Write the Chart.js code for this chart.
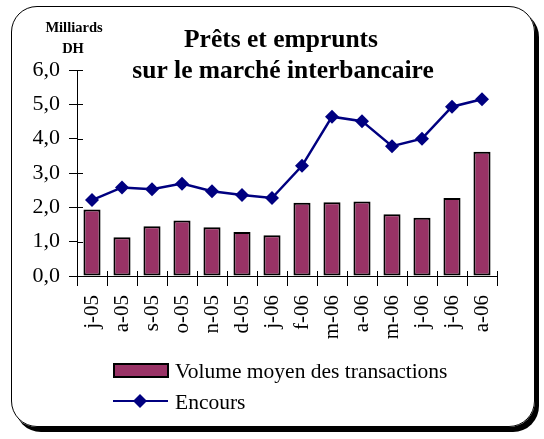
<!DOCTYPE html>
<html>
<head>
<meta charset="utf-8">
<script src="https://cdn.jsdelivr.net/npm/chart.js@4.4.1/dist/chart.umd.min.js"></script>
<style>
  html, body { margin: 0; padding: 0; background: #fff; }
  #wrap { position: relative; width: 544px; height: 439px; }
  #frame {
    position: absolute; left: 11px; top: 6px; width: 522px; height: 419px;
    border: 1.5px solid #000; border-radius: 26px; box-shadow: 4px 5px 0 #000;
  }
  canvas { position: absolute; left: 0; top: 0; }
</style>
</head>
<body>
<div id="wrap">
  <div id="frame"></div>
  <canvas id="myChart" width="544" height="439"></canvas>
</div>
<script>
(() => {
  'use strict'

  const months = ['j-05', 'a-05', 's-05', 'o-05', 'n-05', 'd-05', 'j-06',
    'f-06', 'm-06', 'a-06', 'm-06', 'j-06', 'j-06', 'a-06']
  const volume = [1.94, 1.13, 1.45, 1.62, 1.42, 1.28, 1.19, 2.13, 2.15, 2.17, 1.80, 1.70, 2.27, 3.62]
  const encours = [2.21, 2.58, 2.53, 2.69, 2.47, 2.36, 2.27, 3.21, 4.64, 4.51, 3.78, 4.00, 4.93, 5.15]
  const titleLines = ['Prêts et emprunts', 'sur le marché interbancaire']
  const unitLines = ['Milliards', 'DH']

  const serif = "'Times New Roman', 'Liberation Serif', serif"

  // the month labels look stretched in the original, spread them a bit
  const spacing = {
    id: 'spacing',
    afterDatasetsDraw (chart) { chart.ctx.letterSpacing = '4px' },
    afterDraw (chart) { chart.ctx.letterSpacing = '0px' }
  }

  // title, unit, legend and the inner half of the axis ticks
  const extras = {
    id: 'extras',
    afterDraw (chart) {
      const c = chart.ctx
      const x = chart.scales.x
      const y = chart.scales.y
      c.save()
      c.strokeStyle = '#000'
      c.lineWidth = 1
      c.beginPath()
      y.ticks.forEach((t, i) => {
        const py = Math.round(y.getPixelForTick(i)) + 0.5
        c.moveTo(x.left, py)
        c.lineTo(x.left + 6, py)
      })
      for (let i = 0; i <= months.length; i++) {
        const px = Math.round(x.left + i * (x.width / months.length)) + 0.5
        c.moveTo(px, y.bottom)
        c.lineTo(px, y.bottom - 5)
      }
      c.stroke()

      c.fillStyle = '#000'
      c.textAlign = 'center'
      c.textBaseline = 'alphabetic'
      c.font = 'bold 25.5px ' + serif
      c.fillText(titleLines[0], 281, 47)
      c.fillText(titleLines[1], 283, 78)
      c.font = 'bold 14.5px ' + serif
      c.fillText(unitLines[0], 74, 32)
      c.fillText(unitLines[1], 73, 53)

      const ds = chart.data.datasets
      c.textAlign = 'left'
      c.font = '21.5px ' + serif
      // bar entry
      c.fillStyle = ds[1].backgroundColor
      c.fillRect(114, 364, 54, 13)
      c.lineWidth = 2
      c.strokeRect(114, 364, 54, 13)
      c.fillStyle = '#000'
      c.fillText(ds[1].label, 175, 378)
      // line entry
      c.strokeStyle = ds[0].borderColor
      c.lineWidth = 2
      c.beginPath()
      c.moveTo(113, 401)
      c.lineTo(168, 401)
      c.stroke()
      c.fillStyle = ds[0].pointBackgroundColor
      c.beginPath()
      c.moveTo(140, 394); c.lineTo(147, 401); c.lineTo(140, 408); c.lineTo(133, 401)
      c.closePath()
      c.fill()
      c.fillStyle = '#000'
      c.fillText(ds[0].label, 175, 409)
      c.restore()
    }
  }

  const ctx = document.getElementById('myChart')
  // eslint-disable-next-line no-unused-vars
  const myChart = new Chart(ctx, {
    type: 'bar',
    data: {
      labels: months,
      datasets: [{
        type: 'line',
        label: 'Encours',
        data: encours,
        order: 0,
        borderColor: '#000080',
        borderWidth: 2.5,
        pointStyle: 'rectRot',
        pointRadius: 7,
        pointBorderWidth: 0,
        pointBackgroundColor: '#000080',
        lineTension: 0
      }, {
        label: 'Volume moyen des transactions',
        data: volume,
        order: 1,
        backgroundColor: '#993366',
        borderColor: '#000',
        borderWidth: 2,
        borderSkipped: false,
        barPercentage: 0.57,
        categoryPercentage: 1
      }]
    },
    options: {
      responsive: false,
      animation: false,
      layout: { padding: { left: 10, right: 47, top: 70, bottom: 63 } },
      plugins: {
        legend: { display: false },
        title: { display: false },
        tooltip: { enabled: false }
      },
      scales: {
        x: {
          z: 1,
          afterFit: s => { s.height = 100 },
          border: { color: '#000', width: 1 },
          grid: { drawOnChartArea: false, tickLength: 10, color: '#000' },
          ticks: {
            color: '#000',
            font: { family: serif, size: 21 },
            minRotation: 90,
            maxRotation: 90,
            padding: 9,
            autoSkip: false
          }
        },
        y: {
          min: 0,
          max: 6,
          afterFit: s => { s.width = 67 },
          border: { color: '#000', width: 1 },
          grid: { drawOnChartArea: false, tickLength: 8, color: '#000' },
          ticks: {
            stepSize: 1,
            color: '#000',
            padding: 9,
            font: { family: serif, size: 22 },
            callback: v => v.toFixed(1).replace('.', ',')
          }
        }
      }
    },
    plugins: [spacing, extras]
  })
})()
</script>
</body>
</html>
